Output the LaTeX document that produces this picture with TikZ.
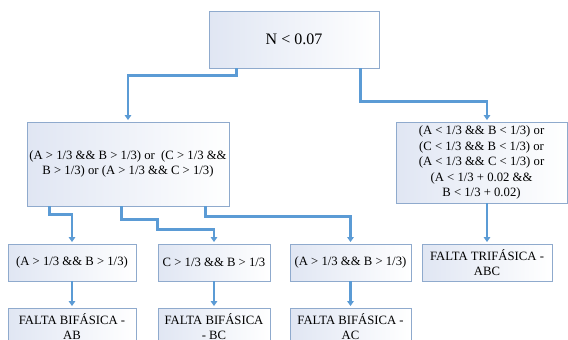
\documentclass[tikz,border=0pt]{standalone}
\usepackage{fontspec}
\setmainfont{Liberation Serif}
\usetikzlibrary{arrows.meta}
\definecolor{conncol}{RGB}{91,155,213}
\definecolor{boxline}{RGB}{143,170,205}
\definecolor{boxfill}{RGB}{224,230,243}
\tikzset{
  box/.style={draw=boxline, line width=0.9pt, left color=boxfill, right color=white,
    align=center, inner sep=0pt, font=\fontsize{12.7}{15}\selectfont},
  conn/.style={draw=conncol, line width=2.6pt,
    -{Triangle[length=5pt,width=6.5pt]}, shorten >=1.5pt}
}
\begin{document}
\begin{tikzpicture}[x=1pt,y=-1pt]
\clip (0,0) rectangle (568,340);
\useasboundingbox (0,0) rectangle (568,340);
\fill[white] (0,0) rectangle (568,340);

\node[box, minimum width=170pt, minimum height=57pt, font=\fontsize{16}{19}\selectfont] (top) at (294,39.5) {N < 0.07};
\node[box, minimum width=202pt, minimum height=84pt] (mid) at (128,164)
  {(A > 1/3 \&\& B > 1/3) or \ (C > 1/3 \&\&\\B > 1/3) or (A > 1/3 \&\& C > 1/3)};
\node[box, minimum width=171pt, minimum height=81pt, font=\fontsize{12.7}{15.5}\selectfont] (right) at (481.5,162.5)
  {(A < 1/3 \&\& B < 1/3) or\\(C < 1/3 \&\& B < 1/3) or\\(A < 1/3 \&\& C < 1/3) or\\(A < 1/3 + 0.02 \&\&\\B < 1/3 + 0.02)};

\node[box, minimum width=128pt, minimum height=37pt] (r3a) at (72,262.5) {(A > 1/3 \&\& B > 1/3)};
\node[box, minimum width=112pt, minimum height=37pt] (r3b) at (214,262.5) {C > 1/3 \&\& B > 1/3};
\node[box, minimum width=121pt, minimum height=37pt] (r3c) at (350.5,262.5) {(A > 1/3 \&\& B > 1/3)};
\node[box, minimum width=130pt, minimum height=37pt] (r3d) at (487,262.5) {FALTA TRIFÁSICA -\\ABC};

\node[box, minimum width=128pt, minimum height=38pt] (r4a) at (72,327) {FALTA BIFÁSICA -\\AB};
\node[box, minimum width=112pt, minimum height=38pt] (r4b) at (214,327) {FALTA BIFÁSICA\\- BC};
\node[box, minimum width=121pt, minimum height=38pt] (r4c) at (350.5,327) {FALTA BIFÁSICA -\\AC};

\draw[conn] ([xshift=28pt]top.south west) -- ++(0,7) -| (mid.north);
\draw[conn] ([xshift=152pt]top.south west) -- ++(0,33) -| ([xshift=5.5pt]right.north);
\draw[conn] ([xshift=23pt]mid.south west) -- ++(0,8) -| (r3a.north);
\draw[conn] ([xshift=95pt]mid.south west) -- ++(0,13) -- ++(36,0) -- ++(0,10) -| (r3b.north);
\draw[conn] ([xshift=179pt]mid.south west) -- ++(0,10) -| (r3c.north);
\draw[conn] (right.south -| r3d.north) -- (r3d.north);
\draw[conn] (r3a.south) -- (r4a.north);
\draw[conn] (r3b.south) -- (r4b.north);
\draw[conn] (r3c.south) -- (r4c.north);
\end{tikzpicture}
\end{document}
